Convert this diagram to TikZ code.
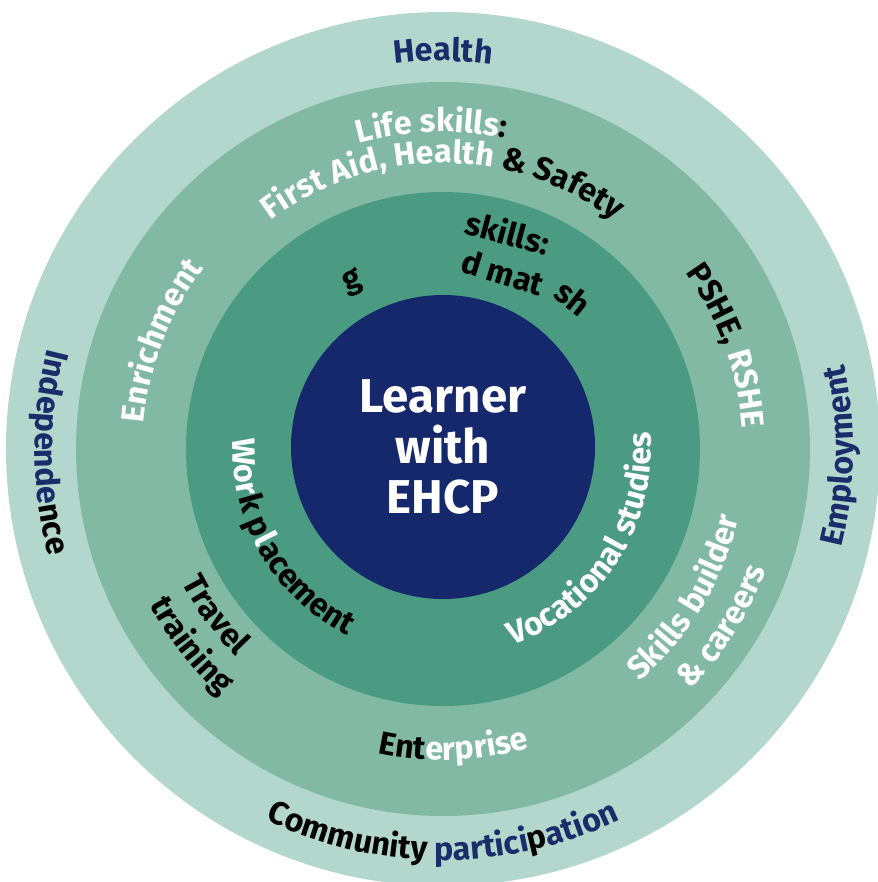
\documentclass[tikz,border=0pt]{standalone}
\usepackage{fontspec}
\setmainfont{Fira Sans}
\usetikzlibrary{decorations.text}

\definecolor{ringouter}{HTML}{B3D7CC}
\definecolor{ringmid}{HTML}{82B9A5}
\definecolor{ringinner}{HTML}{4A9B82}
\definecolor{hubnavy}{HTML}{16286C}
\definecolor{labelnavy}{HTML}{1B2C6A}

\tikzset{
  arclabel/.style={decorate, decoration={text along path, text align=center, text={#1}}},
  hub/.style={circle, fill=hubnavy, minimum size=3.04cm, inner sep=0pt, align=center,
    text=white, font=\bfseries\fontsize{13.5}{14.3}\selectfont},
}

% text over the top of a ring (clockwise), and under it (anticlockwise)
\newcommand{\toplabel}[3]{\path[arclabel={#3}] (#1+80:#2) arc[start angle=#1+80, end angle=#1-80, radius=#2];}
\newcommand{\bottomlabel}[3]{\path[arclabel={#3}] (#1-80:#2) arc[start angle=#1-80, end angle=#1+80, radius=#2];}

\begin{document}
\bfseries\fontsize{9.2}{11}\selectfont
\begin{tikzpicture}
    \useasboundingbox (-4.43,-4.33) rectangle (4.35,4.49);
    \fill[ringouter] (0,0) circle (4.37);
    \fill[ringmid] (0,0) circle (3.67);
    \fill[ringinner] (0,0) circle (2.57);
    \node[hub] (learner) at (0,0.02) {Learner\\with\\EHCP};

    % outer ring
    \toplabel{90}{3.88}{|\color{labelnavy}|Health}
    \bottomlabel{180.5}{4.08}{|\color{labelnavy}|Independe|\color{black}|nce}
    \bottomlabel{-1}{4.10}{|\color{labelnavy}|Employment}
    \bottomlabel{270}{4.11}{|\color{black}|Community|\color{labelnavy}| partici|\color{black}|p|\color{labelnavy}|ation}

    % middle ring
    \toplabel{92}{3.17}{|\color{white}|Life skills|\color{black}|:}
    \toplabel{90}{2.86}{|\color{white}|First Aid, Health |\color{black}|{\&} Safety}
    \toplabel{20}{3.00}{|\color{black}|PSHE, |\color{white}|RSHE}
    \toplabel{159}{3.00}{|\color{white}|Enrichment}
    \bottomlabel{216}{2.93}{|\color{black}|Travel}
    \bottomlabel{218}{3.32}{|\color{black}|training}
    \bottomlabel{328.5}{3.04}{|\color{white}|Skills builder}
    \bottomlabel{327.7}{3.45}{|\color{white}|{\&} careers}
    \bottomlabel{272}{3.11}{|\color{black}|Ent|\color{white}|erprise}

    % inner ring
    \bottomlabel{210}{2.10}{|\color{white}|Wor|\color{black}|k p|\color{white}|l|\color{black}|acement}
    \bottomlabel{327}{2.08}{|\color{white}|Vocational studies}
    \node[rotate=-15] (skills) at (0.65,2.17) {skills:};
    \node[rotate=-17] (dmat) at (0.60,1.77) {d mat};
    \node[rotate=-38] (sh) at (1.30,1.51) {sh};
    \node[rotate=20] (g) at (-0.90,1.67) {g};
\end{tikzpicture}
\end{document}
